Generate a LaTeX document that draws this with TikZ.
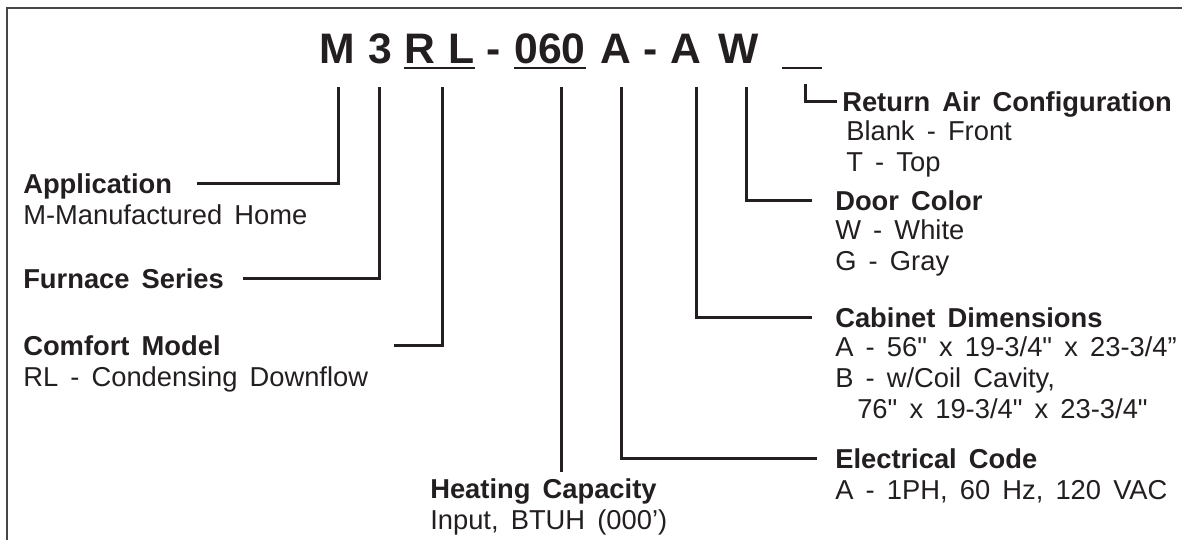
\documentclass[tikz,border=0pt]{standalone}
\usepackage{fontspec}
\newfontfamily\lsans{Liberation Sans}[WordSpace=1.6]
\usetikzlibrary{positioning}
\definecolor{ink}{HTML}{231F20}
\definecolor{framegray}{HTML}{464646}
\tikzset{
  code/.style  = {font=\lsans\fontsize{32}{36}\selectfont\bfseries, text=ink,
                  inner sep=0pt, anchor=base},
  hdr/.style   = {font=\lsans\fontsize{20.5}{23}\selectfont\bfseries, text=ink,
                  inner sep=0pt, text height=15pt, text depth=0pt,
                  anchor=base west},
  val/.style   = {font=\lsans\fontsize{20.5}{23}\selectfont, text=ink,
                  inner sep=0pt, align=left, execute at begin node=\strut},
  conn/.style  = {line width=2.25pt, draw=ink, line join=miter},
  uline/.style = {line width=1.6pt, draw=ink},
}

\begin{document}
\begin{tikzpicture}[x=0.75pt, y=-0.75pt]
  \useasboundingbox (0,0) rectangle (1182,540);
  \draw[framegray, line width=1.75pt] (6.7,540) |- (1182,7.8);

  % model number
  \foreach \n/\x/\t in {M/337/M, 3/380/3, R/420/R, L/462/L, d1/494/-,
                        060/550/060, A1/616/A, d2/651/-, A2/686/A, W/739/W}
    \node[code] (t\n) at (\x,63) {\t};
  \node[code] (tBl) at (802,63) {\phantom{W}};
  \draw[uline] ([yshift=-3.75pt]tR.base west) -- ([yshift=-3.75pt]tL.base east);
  \draw[uline] ([yshift=-3.75pt]t060.base west) -- ([yshift=-3.75pt]t060.base east);
  \draw[uline] ([yshift=-3.75pt]tBl.base west) -- ([yshift=-3.75pt]tBl.base east);

  % tick starts
  \coordinate (kM)   at (338,87);
  \coordinate (k3)   at (379,87);
  \coordinate (kRL)  at (442,87);
  \coordinate (k060) at (561,87);
  \coordinate (kA1)  at (621,87);
  \coordinate (kA2)  at (696,87);
  \coordinate (kW)   at (746,87);
  \coordinate (kBl)  at (805,84);

  % left side
  \node[hdr] (app) at (23,193) {Application};
  \node[val, below=7pt of app.south west, anchor=north west] (appv)
        {M-Manufactured Home};
  \node[hdr] (furn) at (23,288) {Furnace Series};
  \node[hdr] (comf) at (23,355) {Comfort Model};
  \node[val, below=7pt of comf.south west, anchor=north west] (comfv)
        {RL - Condensing Downflow};

  % right side
  \node[hdr] (ret) at (842,111) {Return Air Configuration};
  \node[val, below=7pt of ret.south west, anchor=north west, xshift=3pt] (retv)
        {Blank - Front\\T - Top};
  \node[hdr] (door) at (835,210) {Door Color};
  \node[val, below=7pt of door.south west, anchor=north west] (doorv)
        {W - White\\G - Gray};
  \node[hdr] (cab) at (835,327) {Cabinet Dimensions};
  \node[val, below=7pt of cab.south west, anchor=north west] (cabv)
        {A - 56" x 19-3/4" x 23-3/4”\\B - w/Coil Cavity,\\
         \hspace*{16.5pt}76" x 19-3/4" x 23-3/4"};
  \node[hdr] (elec) at (835,468) {Electrical Code};
  \node[val, below=7pt of elec.south west, anchor=north west] (elecv)
        {A - 1PH, 60 Hz, 120 VAC};
  \node[hdr] (heat) at (430,498) {Heating Capacity};
  \node[val, below=7pt of heat.south west, anchor=north west] (heatv)
        {Input, BTUH (000’)};

  % connectors
  \draw[conn] (kM)  |- ([xshift=18.75pt]app.east);
  \draw[conn] (k3)  |- ([xshift=14pt]furn.east);
  \draw[conn] (kRL) |- ([xshift=130pt]comf.east);
  \draw[conn, shorten >=4.5pt] (k060) -- (k060 |- heat.north);
  \draw[conn] (kA1) |- ([xshift=-13.5pt]elec.west);
  \draw[conn] (kA2) |- ([xshift=-17pt]cab.west);
  \draw[conn] (kW)  |- ([xshift=-17pt]door.west);
  \draw[conn] (kBl) |- ([xshift=-4pt]ret.west);
\end{tikzpicture}
\end{document}
